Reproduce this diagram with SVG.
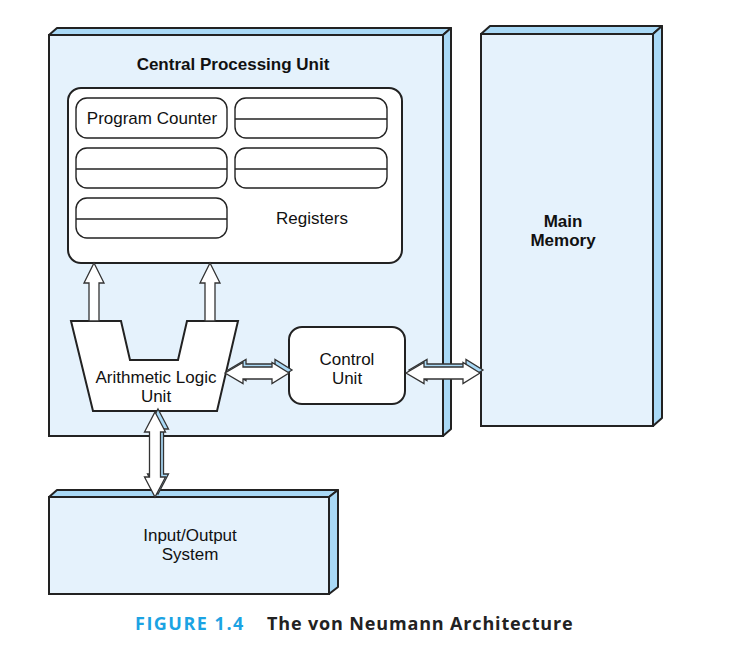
<svg xmlns="http://www.w3.org/2000/svg" width="729" height="651" viewBox="0 0 729 651">
<style>
.front{fill:#e5f2fc;stroke:#222;stroke-width:2}
.side{fill:#a9d9f6;stroke:#222;stroke-width:2;stroke-linejoin:round}
.box{fill:#fff;stroke:#222;stroke-width:2}
.reg{fill:#fff;stroke:#222;stroke-width:1.4}
.rl{stroke:#222;stroke-width:1.4}
.t{font-family:"Liberation Sans",Arial,sans-serif;font-size:17px;fill:#111;text-anchor:middle}
.b{font-weight:bold}
.arr{fill:#fff;stroke:#333;stroke-width:1.3;stroke-linejoin:miter}
.arr3{fill:#a9d9f6;stroke:#333;stroke-width:1.3}
.cap{font-family:"Open Sans","Liberation Sans",sans-serif;font-size:18px;font-weight:bold}
</style>
<rect width="729" height="651" fill="#fff"/>
<g id="cpu">
<polygon class="side" points="49,35 57,28 451,28 443,35"/>
<polygon class="side" points="443,35 451,28 451,429 443,436"/>
<rect class="front" x="49" y="35" width="394" height="401"/>
<text class="t b" x="233" y="70">Central Processing Unit</text>
</g>
<g id="memory">
<polygon class="side" points="481,34 490,26 662,26 653,34"/>
<polygon class="side" points="653,34 662,26 662,418 653,426"/>
<rect class="front" x="481" y="34" width="172" height="392"/>
<text class="t b" x="563" y="227">Main</text>
<text class="t b" x="563" y="246">Memory</text>
</g>
<g id="io">
<polygon class="side" points="49,497 57,490 338,490 329,497"/>
<polygon class="side" points="329,497 338,490 338,587 329,594"/>
<rect class="front" x="49" y="497" width="280" height="97"/>
<text class="t" x="190" y="541">Input/Output</text>
<text class="t" x="190" y="560">System</text>
</g>
<g id="registers">
<rect class="box" x="68" y="88" width="334" height="175" rx="13"/>
<text class="t" x="312" y="224">Registers</text>
</g>
<g id="program-counter">
<rect class="reg" x="76" y="98" width="151" height="40" rx="11"/>
<text class="t" x="152" y="124">Program Counter</text>
</g>
<g id="reg2">
<rect class="reg" x="235" y="98" width="152" height="40" rx="11"/>
<line class="rl" x1="235" y1="119" x2="387" y2="119"/>
</g>
<g id="reg3">
<rect class="reg" x="76" y="148" width="151" height="40" rx="11"/>
<line class="rl" x1="76" y1="169" x2="227" y2="169"/>
</g>
<g id="reg4">
<rect class="reg" x="235" y="148" width="152" height="40" rx="11"/>
<line class="rl" x1="235" y1="169" x2="387" y2="169"/>
</g>
<g id="reg5">
<rect class="reg" x="76" y="198" width="151" height="40" rx="11"/>
<line class="rl" x1="76" y1="219" x2="227" y2="219"/>
</g>
<g id="alu">
<polygon class="box" points="71,321 121,321 130,360 178,360 187,321 238,321 217,411 93,411"/>
<text class="t" x="156" y="383">Arithmetic Logic</text>
<text class="t" x="156" y="402">Unit</text>
</g>
<g id="control-unit">
<rect class="box" x="289" y="327" width="116" height="77" rx="13"/>
<text class="t" x="347" y="365">Control</text>
<text class="t" x="347" y="384">Unit</text>
</g>
<g id="connectors">
<path class="arr" d="M94,263 L104,283 L99,283 L99,321 L89,321 L89,283 L84,283 Z"/>
<path class="arr" d="M210,263 L220,283 L215,283 L215,321 L205,321 L205,283 L200,283 Z"/>
<g transform="translate(3,-3)"><path class="arr3" d="M225,373 L243,362.5 L243,367 L272,367 L272,362.5 L289,373 L272,383.5 L272,379 L243,379 L243,383.5 Z"/></g>
<path class="arr" d="M225,373 L243,362.5 L243,367 L272,367 L272,362.5 L289,373 L272,383.5 L272,379 L243,379 L243,383.5 Z"/>
<g transform="translate(3,-3)"><path class="arr3" d="M406,373 L424,362.5 L424,367 L463,367 L463,362.5 L480,373 L463,383.5 L463,379 L424,379 L424,383.5 Z"/></g>
<path class="arr" d="M406,373 L424,362.5 L424,367 L463,367 L463,362.5 L480,373 L463,383.5 L463,379 L424,379 L424,383.5 Z"/>
<g transform="translate(3,-3)"><path class="arr3" d="M155,412 L165.5,432 L160.5,432 L160.5,477 L165.5,477 L155,497 L144.5,477 L149.5,477 L149.5,432 L144.5,432 Z"/></g>
<path class="arr" d="M155,412 L165.5,432 L160.5,432 L160.5,477 L165.5,477 L155,497 L144.5,477 L149.5,477 L149.5,432 L144.5,432 Z"/>
</g>
<g id="caption">
<text class="cap" x="135" y="630" fill="#1ba3e3" letter-spacing="1.5">FIGURE 1.4</text>
<text class="cap" x="267" y="630" fill="#222" letter-spacing="0.85">The von Neumann Architecture</text>
</g>
</svg>
